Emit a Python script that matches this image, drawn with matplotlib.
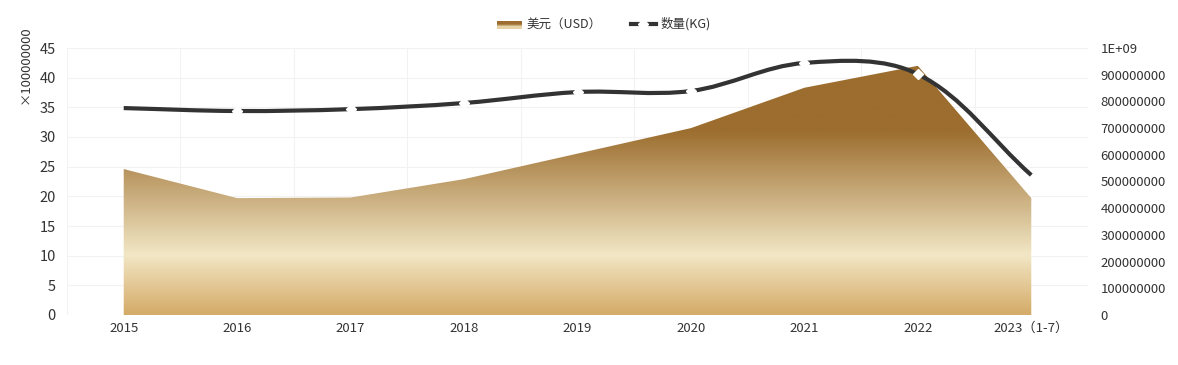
import numpy as np
import matplotlib
matplotlib.use('Agg')
import matplotlib.pyplot as plt
from matplotlib.colors import LinearSegmentedColormap
from matplotlib.lines import Line2D
from matplotlib.patches import Patch, Rectangle, PathPatch
from matplotlib.path import Path
from matplotlib.legend_handler import HandlerBase

plt.rcParams['font.family'] = ['Noto Sans CJK SC', 'DejaVu Sans']

years = ['2015', '2016', '2017', '2018', '2019', '2020', '2021', '2022', '2023（1-7）']
usd = [24.6, 19.7, 19.8, 22.9, 27.2, 31.5, 38.3, 42.0, 19.7]          # x 1e8
kg = [775e6, 764e6, 771e6, 794e6, 835e6, 839e6, 944e6, 902e6, 524e6]

txt = '#333333'
grid_c = '#f2f2f2'
cmap = LinearSegmentedColormap.from_list('gold', [
    (0.0, '#d4aa67'), (0.24, '#f2e7c5'), (0.74, '#9c6d2e'), (1.0, '#9c6d2e')])


def smooth_path(pts, smooth=0.35):
    # cardinal-style smoothing, tangent split by neighbour segment lengths
    n = len(pts)
    cps = []
    for i in range(n):
        p = pts[i]
        prev = pts[i - 1] if i > 0 else p
        nxt = pts[i + 1] if i < n - 1 else p
        v = nxt - prev
        l0 = np.hypot(*(p - prev))
        l1 = np.hypot(*(nxt - p))
        r = l1 / (l0 + l1)
        cps.append((p - v * smooth * (1 - r), p + v * smooth * r))
    verts = [pts[0]]
    codes = [Path.MOVETO]
    for i in range(n - 1):
        verts += [cps[i][1], cps[i + 1][0], pts[i + 1]]
        codes += [Path.CURVE4] * 3
    return Path(np.array(verts), codes)


class GradientHandler(HandlerBase):
    def create_artists(self, legend, orig, xd, yd, width, height, fontsize, trans):
        arts = []
        k = 6
        for j in range(k):
            c = cmap(1 - j / (k - 1) * 0.85)
            arts.append(Rectangle((xd, yd + height * (1 - (j + 1) / k)), width, height / k,
                                  facecolor=c, edgecolor='none', transform=trans))
        return arts


fig = plt.figure(figsize=(11.78, 3.65), dpi=100)
ax = fig.add_axes([67 / 1178, 1 - 315 / 365, 1021 / 1178, 267 / 365])
x = np.arange(len(years))

# gradient area
poly = ax.fill_between(x, 0, usd, facecolor='none', edgecolor='none')
grad = np.linspace(0, 1, 256).reshape(-1, 1)
img = ax.imshow(grad, cmap=cmap, origin='lower', aspect='auto',
                extent=[-0.5, len(years) - 0.5, 0, max(usd)], zorder=1)
img.set_clip_path(poly.get_paths()[0], transform=ax.transData)

ax.set_xlim(-0.5, len(years) - 0.5)
ax.set_ylim(0, 45)
ax.set_yticks(np.arange(0, 46, 5))
ax.set_xticks(x)
ax.set_xticklabels(years)
for v in np.arange(0, 46, 5):
    ax.axhline(v, color=grid_c, lw=0.8, zorder=0)
for v in np.arange(-0.5, len(years), 1):
    ax.axvline(v, color=grid_c, lw=0.8, zorder=0)
ax.tick_params(axis='both', length=0, colors=txt)
ax.tick_params(axis='y', labelsize=10.5, pad=8)
ax.tick_params(axis='x', labelsize=9.5, pad=5)
for s in ax.spines.values():
    s.set_visible(False)

# right axis with smooth line
ax2 = ax.twinx()
ax2.set_xlim(-0.5, len(years) - 0.5)
ax2.set_ylim(0, 1e9)
ax2.set_yticks(np.arange(0, 1.01e9, 1e8))
ax2.set_yticklabels(['0'] + ['%d' % v for v in np.arange(1e8, 1e9, 1e8)] + ['1E+09'])
ax2.tick_params(axis='y', length=0, labelsize=9.5, colors=txt, pad=9)
for s in ax2.spines.values():
    s.set_visible(False)

pix = ax2.transData.transform(np.column_stack([x, kg]).astype(float))
path = smooth_path(pix)
path = Path(ax2.transData.inverted().transform(path.vertices), path.codes)
ax2.add_patch(PathPatch(path, facecolor='none', edgecolor='#333333',
                        lw=3, zorder=3, capstyle='butt'))
ax2.plot(x[1:-1], kg[1:-1], linestyle='none', marker='D', markersize=5,
         markerfacecolor='white', markeredgecolor='white', zorder=4)

fig.text(25 / 1178, 1 - 65 / 365, '×100000000', rotation=90, ha='center', va='center',
         fontsize=9.5, color=txt)

handles = [Patch(facecolor='#b88a4c', edgecolor='none'),
           Line2D([], [], color='#333333', lw=3, marker='D', markersize=5,
                  markerfacecolor='white', markeredgecolor='white')]
fig.legend(handles, ['美元（USD）', '数量(KG)'], loc='center', bbox_to_anchor=(604 / 1178, 1 - 24 / 365),
           ncol=2, frameon=False, fontsize=9, handlelength=2.0, handleheight=0.5,
           columnspacing=2.3, handletextpad=0.4, labelcolor=txt,
           handler_map={Patch: GradientHandler()})

fig.savefig('out.png', dpi=100)
